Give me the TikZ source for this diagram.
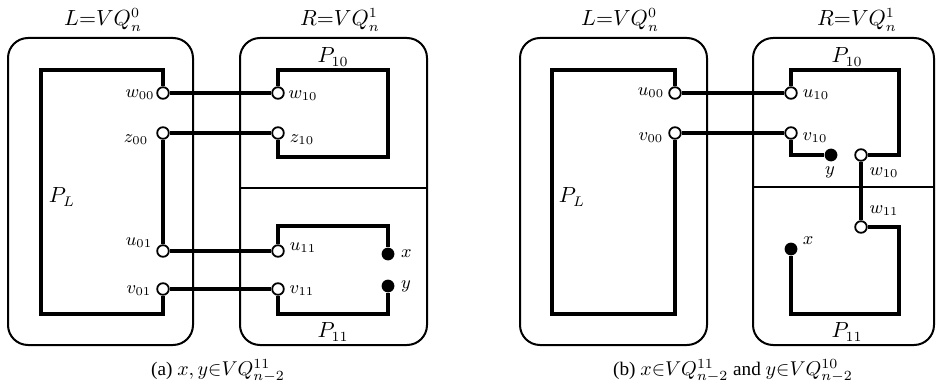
\documentclass[tikz,border=0pt]{standalone}
\usepackage{fontspec}
\setmainfont{Liberation Serif}
\usepackage{tikz}
\usetikzlibrary{positioning}

\tikzset{
  cube/.style={line width=1pt, rounded corners=10pt},
  cut/.style={line width=1pt},
  route/.style={line width=2.2pt, line join=miter},
  open/.style={circle, draw, fill=white, line width=0.9pt, inner sep=0pt, minimum size=5.8pt},
  dot/.style={circle, fill=black, inner sep=0pt, minimum size=6.4pt},
  lbl/.style={inner sep=1pt, font=\fontsize{9.2}{11}\selectfont},
  head/.style={inner sep=1pt, font=\fontsize{10.5}{12}\selectfont},
  capt/.style={inner sep=1pt, font=\fontsize{9.6}{11}\selectfont}
}

\begin{document}
\begin{tikzpicture}[x=0.5pt, y=-0.5pt]
    \useasboundingbox (0,0) rectangle (937,390);
    %%(a) the two halves
    \draw[cube] (8,38) rectangle (193,345);
    \draw[cube] (240,38) rectangle (427,345);
    \draw[cut] (240,188) -- (427,188);
    \node[head] (La) at (103,20) {$L{=}VQ_n^0$};
    \node[head] (Ra) at (340,20) {$R{=}VQ_n^1$};
    %%(a) vertices
    \node[open] (w00) at (163,93) {};
    \node[open] (z00) at (163,133) {};
    \node[open] (u01) at (163,251) {};
    \node[open] (v01) at (163,289) {};
    \node[open] (w10) at (278,93) {};
    \node[open] (z10) at (278,133) {};
    \node[open] (u11) at (278,251) {};
    \node[open] (v11) at (278,289) {};
    \node[dot] (xa) at (388,254) {};
    \node[dot] (ya) at (388,286) {};
    %%(a) paths
    \draw[route] (w00) -- (163,70) -- (41,70) -- (41,314) -- (163,314) -- (v01);
    \draw[route] (z00) -- (u01);
    \draw[route] (w10) -- (278,70) -- (388,70) -- (388,157) -- (278,157) -- (z10);
    \draw[route] (u11) -- (278,226) -- (388,226) -- (xa);
    \draw[route] (ya) -- (388,314) -- (278,314) -- (v11);
    \draw[route] (w00) -- (w10);
    \draw[route] (z00) -- (z10);
    \draw[route] (u01) -- (u11);
    \draw[route] (v01) -- (v11);
    %%(a) labels
    \node[lbl] (w00l) at (140,95) {$w_{00}$};
    \node[lbl] (z00l) at (136,140) {$z_{00}$};
    \node[lbl] (u01l) at (139,243) {$u_{01}$};
    \node[lbl] (v01l) at (139,291) {$v_{01}$};
    \node[lbl] (w10l) at (303,96) {$w_{10}$};
    \node[lbl] (z10l) at (302,140) {$z_{10}$};
    \node[lbl] (u11l) at (303,248) {$u_{11}$};
    \node[lbl] (v11l) at (302,291) {$v_{11}$};
    \node[lbl, right=2pt of xa] (xal) {$x$};
    \node[lbl, right=2pt of ya] (yal) {$y$};
    \node[head] (PLa) at (62,197) {$P_L$};
    \node[head] (P10a) at (333,57) {$P_{10}$};
    \node[head] (P11a) at (333,332) {$P_{11}$};
    \node[capt] (capa) at (218,371) {(a) $x,y{\in}VQ_{n-2}^{11}$};

    %%(b) the two halves
    \draw[cube] (520,38) rectangle (707,345);
    \draw[cube] (753,38) rectangle (934,345);
    \draw[cut] (753,187) -- (934,187);
    \node[head] (Lb) at (620,20) {$L{=}VQ_n^0$};
    \node[head] (Rb) at (857,20) {$R{=}VQ_n^1$};
    %%(b) vertices
    \node[open] (u00) at (675,93) {};
    \node[open] (v00) at (675,133) {};
    \node[open] (u10) at (791,93) {};
    \node[open] (v10) at (791,133) {};
    \node[open] (w10b) at (861,155) {};
    \node[open] (w11) at (861,227) {};
    \node[dot] (yb) at (831,155) {};
    \node[dot] (xb) at (791,249) {};
    %%(b) paths
    \draw[route] (u00) -- (675,70) -- (552,70) -- (552,314) -- (675,314) -- (v00);
    \draw[route] (u10) -- (791,70) -- (899,70) -- (899,155) -- (w10b);
    \draw[route] (v10) -- (791,155) -- (yb);
    \draw[route] (w10b) -- (w11);
    \draw[route] (w11) -- (899,227) -- (899,314) -- (791,314) -- (xb);
    \draw[route] (u00) -- (u10);
    \draw[route] (v00) -- (v10);
    %%(b) labels
    \node[lbl] (u00l) at (651,93) {$u_{00}$};
    \node[lbl] (v00l) at (651,138) {$v_{00}$};
    \node[lbl] (u10l) at (816,95) {$u_{10}$};
    \node[lbl] (v10l) at (815,138) {$v_{10}$};
    \node[lbl] (ybl) at (830,172) {$y$};
    \node[lbl] (w10bl) at (884,173) {$w_{10}$};
    \node[lbl] (w11l) at (884,211) {$w_{11}$};
    \node[lbl] (xbl) at (808,241) {$x$};
    \node[head] (PLb) at (572,197) {$P_L$};
    \node[head] (P10b) at (847,57) {$P_{10}$};
    \node[head] (P11b) at (847,332) {$P_{11}$};
    \node[capt] (capb) at (733,371) {(b) $x{\in}VQ_{n-2}^{11}$ and $y{\in}VQ_{n-2}^{10}$};
\end{tikzpicture}
\end{document}
